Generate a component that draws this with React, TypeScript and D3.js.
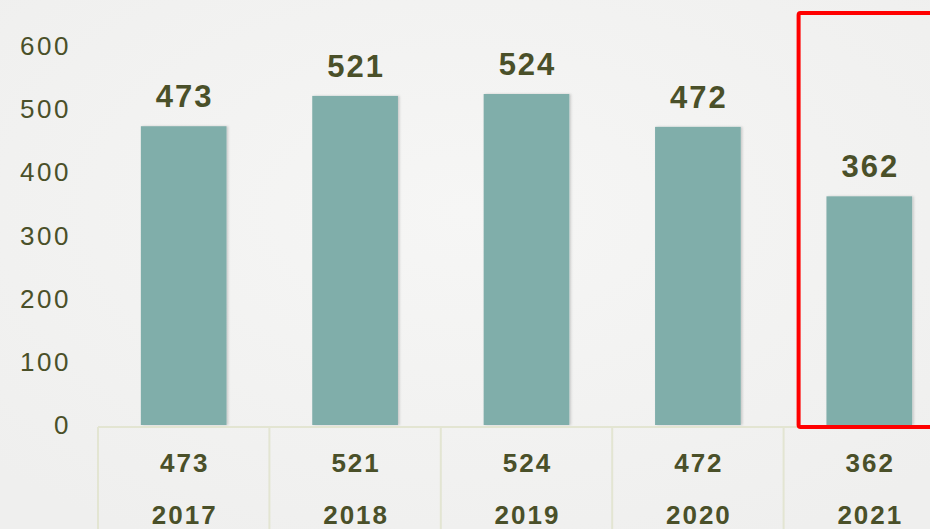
import React from "react";
import * as d3 from "d3";

const years = ["2017", "2018", "2019", "2020", "2021"];
const values = [473, 521, 524, 472, 362];
const yTicks = [0, 100, 200, 300, 400, 500, 600];
const highlightYear = "2021";

const W = 930;
const H = 529;
const textColor = "#4a5029";
const barColor = "#80aeaa";
const gridColor = "#e3e5d2";
const font = "'Liberation Sans', Arial, sans-serif";

export default function App() {
  const x = d3.scaleBand<string>().domain(years).range([98, 955]).paddingInner(0.5).paddingOuter(0.25);
  const y = d3.scaleLinear().domain([0, 600]).range([425, 46]);
  const step = x.step();
  const cellLeft = (yr: string) => (x(yr) as number) - step * 0.25;
  const tableTop = 427;

  const hl = cellLeft(highlightYear);

  return (
    <div style={{ position: "absolute", left: 0, top: 0, width: W, height: H, overflow: "hidden" }}>
      <svg width={W} height={H} style={{ display: "block" }}>
        <defs>
          <radialGradient id="bg" cx="50%" cy="40%" r="70%">
            <stop offset="0%" stopColor="#f6f6f5" />
            <stop offset="100%" stopColor="#efefee" />
          </radialGradient>
          <filter id="sh" x="-10%" y="-10%" width="130%" height="120%">
            <feDropShadow dx="1.5" dy="0" stdDeviation="1.2" floodColor="#000" floodOpacity="0.18" />
          </filter>
        </defs>
        <rect x={0} y={0} width={W} height={H} fill="url(#bg)" />

        {/* y axis labels */}
        {yTicks.map((t) => (
          <text
            key={t}
            x={71}
            y={y(t) + 9}
            textAnchor="end"
            fontFamily={font}
            fontSize={26}
            letterSpacing={2.5}
            fill={textColor}
          >
            {t}
          </text>
        ))}

        {/* bars */}
        {years.map((yr, i) => (
          <rect
            key={yr}
            x={x(yr)}
            y={y(values[i])}
            width={x.bandwidth()}
            height={y(0) - y(values[i])}
            fill={barColor}
            filter="url(#sh)"
          />
        ))}

        {/* value labels */}
        {years.map((yr, i) => (
          <text
            key={yr}
            x={(x(yr) as number) + x.bandwidth() / 2 + 1}
            y={y(values[i]) - 19}
            textAnchor="middle"
            fontFamily={font}
            fontWeight="bold"
            fontSize={31}
            letterSpacing={2}
            fill={textColor}
          >
            {values[i]}
          </text>
        ))}

        {/* data table */}
        <line x1={98} x2={W} y1={tableTop} y2={tableTop} stroke={gridColor} strokeWidth={2} />
        {years.map((yr) => (
          <line
            key={yr}
            x1={cellLeft(yr)}
            x2={cellLeft(yr)}
            y1={tableTop}
            y2={H}
            stroke={gridColor}
            strokeWidth={2}
          />
        ))}
        {years.map((yr, i) => {
          const cx = (x(yr) as number) + x.bandwidth() / 2 + 1;
          return (
            <g key={yr}>
              <text x={cx} y={472} textAnchor="middle" fontFamily={font} fontWeight="bold" fontSize={26} letterSpacing={2} fill={textColor}>
                {values[i]}
              </text>
              <text x={cx} y={524} textAnchor="middle" fontFamily={font} fontWeight="bold" fontSize={26} letterSpacing={2} fill={textColor}>
                {yr}
              </text>
            </g>
          );
        })}

        {/* highlight box */}
        <rect
          x={hl + 15}
          y={13}
          width={W - hl}
          height={tableTop - 13}
          fill="none"
          stroke="#ff0000"
          strokeWidth={4}
          rx={2}
        />
      </svg>
    </div>
  );
}
